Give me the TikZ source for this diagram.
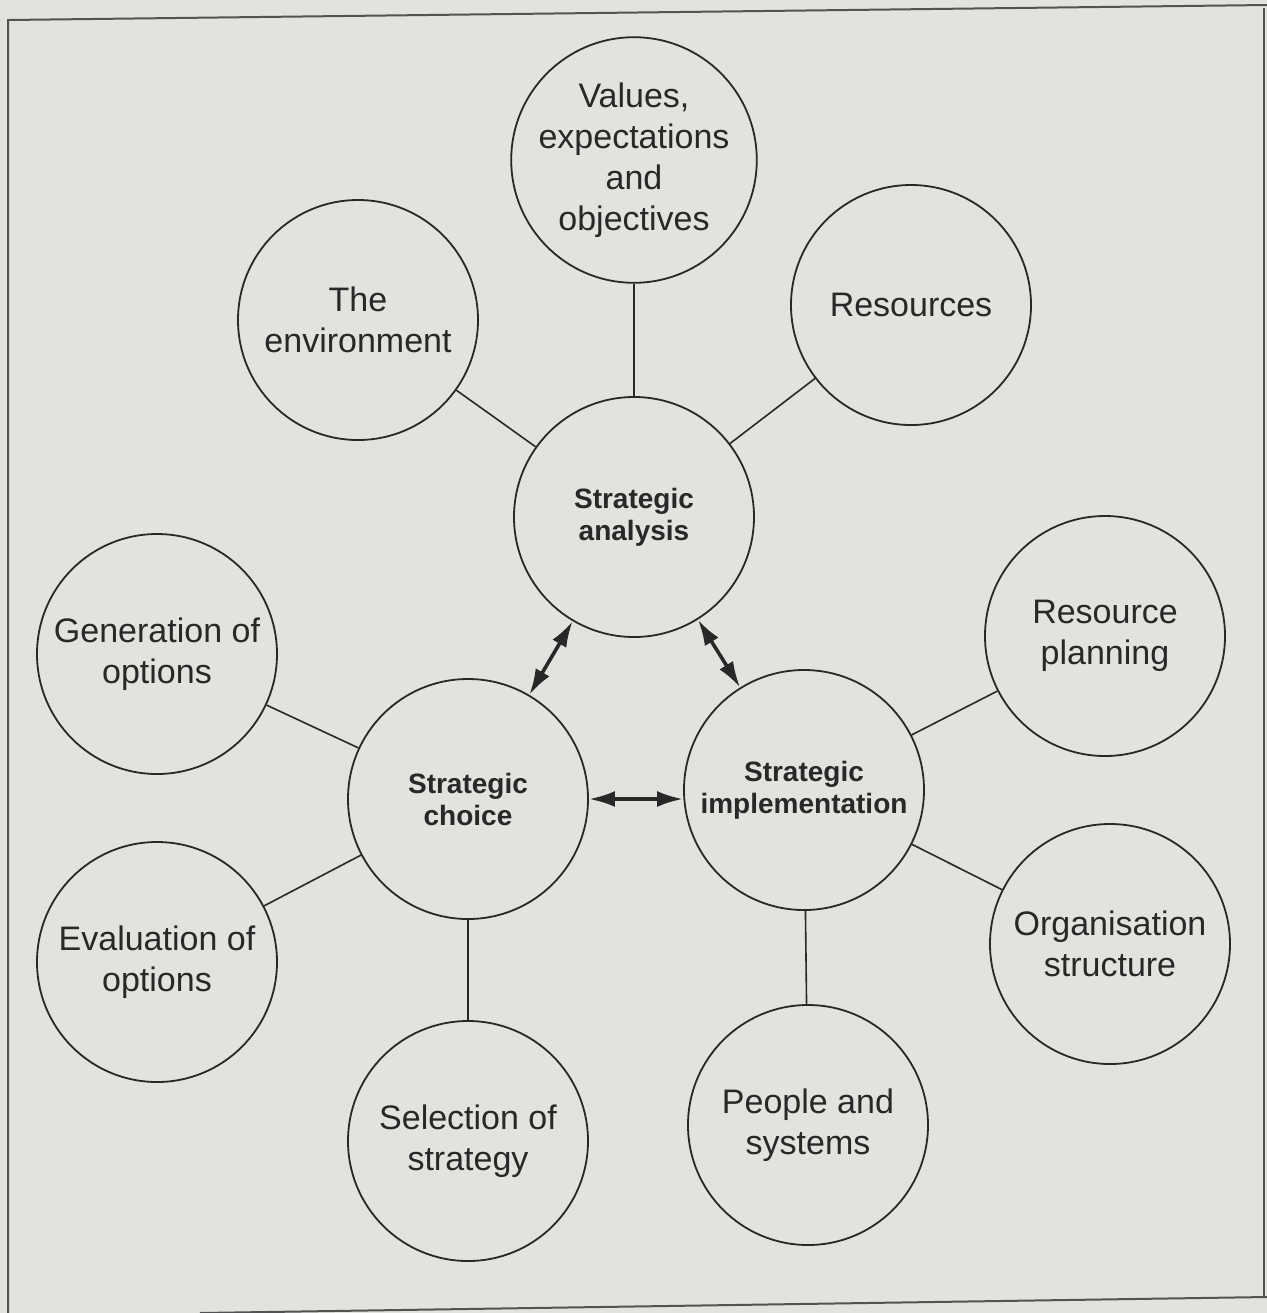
\documentclass[tikz,border=0pt]{standalone}
\usepackage{fontspec}
\setmainfont{Liberation Sans}
\usetikzlibrary{arrows.meta}
\definecolor{paper}{RGB}{226,226,223}
\definecolor{ink}{RGB}{40,40,40}

\begin{document}
\begin{tikzpicture}[x=0.5pt,y=-0.5pt,
		bub/.style={draw=ink,line width=0.9pt,circle,minimum size=120pt,inner sep=0pt,align=center,text=ink,font=\fontsize{17}{20.5}\selectfont},
		core/.style={bub,font=\fontsize{14}{16}\selectfont\bfseries},
		link/.style={draw=ink,line width=0.8pt},
		arr/.style={draw=ink,line width=1.8pt,{Latex[length=13pt,width=8pt]}-{Latex[length=13pt,width=8pt]}}]
	\useasboundingbox (0,0) rectangle (1267,1313);
	\fill[paper] (0,0) rectangle (1267,1313);
	\draw[ink!80,line width=1pt] (8,1313) -- (8,20) -- (1267,5);
	\draw[ink!80,line width=1pt] (1264,8) -- (1264,1298);
	\draw[ink!80,line width=1pt] (200,1313) -- (1267,1297);
	
	\node[bub] (val) at (634,160) {Values,\\expectations\\and\\objectives};
	\node[bub] (env) at (358,320) {The\\environment};
	\node[bub] (res) at (911,305) {Resources};
	\node[core] (ana) at (634,517) {Strategic\\analysis};
	\node[bub] (gen) at (157,654) {Generation of\\options};
	\node[bub] (rpl) at (1105,636) {Resource\\planning};
	\node[core] (cho) at (468,799) {Strategic\\choice};
	\node[core] (imp) at (804,790) {Strategic\\implementation};
	\node[bub] (eva) at (157,962) {Evaluation of\\options};
	\node[bub] (org) at (1110,944) {Organisation\\structure};
	\node[bub] (sel) at (468,1141) {Selection of\\strategy};
	\node[bub] (ppl) at (808,1125) {People and\\systems};
	
	\draw[link] (val) -- (ana);
	\draw[link] (env) -- (ana);
	\draw[link] (res) -- (ana);
	\draw[link] (gen) -- (cho);
	\draw[link] (eva) -- (cho);
	\draw[link] (sel) -- (cho);
	\draw[link] (rpl) -- (imp);
	\draw[link] (org) -- (imp);
	\draw[link] (ppl) -- (imp);
	
	\draw[arr] (cho) -- (ana);
	\draw[arr] (ana) -- (imp);
	\draw[arr] (cho.east) -- (cho.east -| imp.west);
\end{tikzpicture}
\end{document}
